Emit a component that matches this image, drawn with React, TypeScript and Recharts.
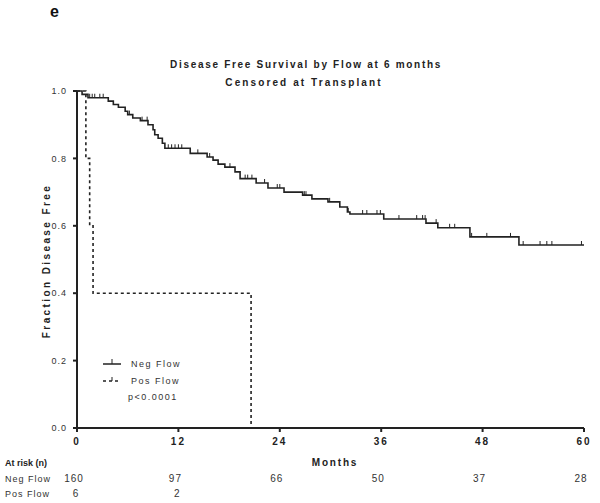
import React from 'react';
import { ComposedChart, Line, Scatter, XAxis, YAxis } from 'recharts';

// Kaplan-Meier steps
const negTimes = [0, 0.6, 1.3, 3.7, 4.3, 4.9, 5.7, 6.0, 6.6, 7.5, 8.4, 9.0, 9.2, 9.6, 10.1, 10.4, 13.4, 15.4, 16.1, 16.7, 17.5, 18.7, 19.3, 21.2, 22.6, 24.5, 26.7, 27.8, 29.7, 31.1, 32.0, 32.3, 36.3, 41.3, 42.7, 46.5, 52.3, 60];
const negSurv = [1.0, 0.99, 0.98, 0.97, 0.96, 0.952, 0.94, 0.93, 0.92, 0.912, 0.9, 0.885, 0.87, 0.86, 0.845, 0.83, 0.815, 0.804, 0.795, 0.783, 0.774, 0.76, 0.74, 0.727, 0.712, 0.7, 0.691, 0.68, 0.671, 0.656, 0.641, 0.635, 0.62, 0.608, 0.594, 0.567, 0.543, 0.543];
const negCensored = [1.5, 1.8, 2.1, 2.7, 3.1, 6.2, 7.7, 8.3, 10.8, 11.2, 11.6, 12.0, 12.4, 14.3, 15.7, 18.1, 19.9, 20.2, 20.7, 22.2, 23.7, 24.0, 26.9, 27.1, 29.9, 32.1, 33.8, 34.3, 35.5, 35.9, 38.1, 40.2, 40.9, 41.2, 42.5, 44.1, 44.7, 46.7, 48.5, 51.3, 52.8, 54.8, 55.6, 56.2, 59.7];

const posTimes = [0, 1.05, 1.5, 1.9, 20.6];
const posSurv = [1.0, 0.8, 0.6, 0.4, 0.0];

const xTicks = [0, 12, 24, 36, 48, 60];
const yTicks = [0, 0.2, 0.4, 0.6, 0.8, 1.0];

const riskNeg = [160, 97, 66, 50, 37, 28];
const riskPos = [6, 2];

const FONT = '"Liberation Sans", Arial, sans-serif';
const INK = '#222';

const negData = negTimes.map((t, i) => ({ t, s: negSurv[i] }));
const posData = posTimes.map((t, i) => ({ t, s: posSurv[i] }));

const survAt = (t: number) => {
  let s = negSurv[0];
  negTimes.forEach((nt, i) => {
    if (nt <= t) s = negSurv[i];
  });
  return s;
};
const censorData = negCensored.map(t => ({ t, s: survAt(t) }));

const CensorMark = (props: any) => {
  const { cx, cy } = props;
  return <line x1={cx} y1={cy} x2={cx} y2={cy - 4} stroke={INK} strokeWidth={1} />;
};

// plot area: x 77..584, y 91..428
const PL = 77;
const PR = 584;
const xPos = (t: number) => PL + (t / 60) * (PR - PL);

const App: React.FC = () => {
  return (
    <div style={{ position: 'absolute', left: 0, top: 0, width: 600, height: 503, background: '#fff', fontFamily: FONT }}>
      <ComposedChart
        width={600}
        height={503}
        margin={{ top: 91, right: 16, bottom: 55, left: 37 }}
      >
        <XAxis
          type="number"
          dataKey="t"
          domain={[0, 60]}
          ticks={xTicks}
          allowDataOverflow
          height={20}
          stroke={INK}
          strokeWidth={2}
          tickSize={4}
          tickMargin={6}
          tick={{ fill: INK, fontSize: 10, fontWeight: 'bold', fontFamily: FONT, letterSpacing: 2 }}
        />
        <YAxis
          type="number"
          dataKey="s"
          domain={[0, 1]}
          ticks={yTicks}
          width={40}
          stroke={INK}
          strokeWidth={2}
          tickSize={4}
          tickMargin={6}
          tickFormatter={(v: number) => v.toFixed(1)}
          tick={{ fill: '#333', fontSize: 9, fontFamily: FONT, letterSpacing: 1 }}
        />
        <Line
          data={negData}
          dataKey="s"
          type="stepAfter"
          stroke={INK}
          strokeWidth={1.6}
          dot={false}
          isAnimationActive={false}
        />
        <Line
          data={posData}
          dataKey="s"
          type="stepAfter"
          stroke={INK}
          strokeWidth={1.6}
          strokeDasharray="3 3"
          dot={false}
          isAnimationActive={false}
        />
        <Scatter data={censorData} dataKey="s" shape={CensorMark} isAnimationActive={false} />
      </ComposedChart>

      <svg
        width={600}
        height={503}
        style={{ position: 'absolute', left: 0, top: 0, pointerEvents: 'none', fontFamily: FONT }}
      >
        <text x={50} y={17} fontSize={16} fontWeight="bold" fill="#111">e</text>

        <text x={306} y={68} textAnchor="middle" fontSize={10} fontWeight="bold" fill={INK} style={{ letterSpacing: 1.7 }}>
          Disease Free Survival by Flow at 6 months
        </text>
        <text x={304} y={86} textAnchor="middle" fontSize={10} fontWeight="bold" fill={INK} style={{ letterSpacing: 2.1 }}>
          Censored at Transplant
        </text>

        <text
          x={0}
          y={0}
          transform="translate(50 261) rotate(-90)"
          textAnchor="middle"
          fontSize={10}
          fontWeight="bold"
          fill={INK}
          style={{ letterSpacing: 2.4 }}
        >
          Fraction Disease Free
        </text>

        {/* legend */}
        <line x1={103} y1={364} x2={121} y2={364} stroke={INK} strokeWidth={1.5} />
        <line x1={112} y1={364} x2={112} y2={359} stroke={INK} strokeWidth={1} />
        <text x={131} y={367} fontSize={9} fill="#333" style={{ letterSpacing: 1.5 }}>Neg Flow</text>
        <line x1={103} y1={381} x2={121} y2={381} stroke={INK} strokeWidth={1.5} strokeDasharray="3 3" />
        <line x1={112} y1={381} x2={112} y2={377} stroke={INK} strokeWidth={1} />
        <text x={131} y={384} fontSize={9} fill="#333" style={{ letterSpacing: 1.5 }}>Pos Flow</text>
        <text x={128} y={400} fontSize={9} fill="#333" style={{ letterSpacing: 1.5 }}>p&lt;0.0001</text>

        <text x={335} y={466} textAnchor="middle" fontSize={10} fontWeight="bold" fill={INK} style={{ letterSpacing: 1.8 }}>
          Months
        </text>

        {/* at risk table */}
        <text x={5} y={466} fontSize={9} fontWeight="bold" fill={INK}>At risk (n)</text>
        <text x={5} y={482} fontSize={9} fill="#333" style={{ letterSpacing: 1 }}>Neg Flow</text>
        <text x={5} y={497} fontSize={9} fill="#333" style={{ letterSpacing: 1 }}>Pos Flow</text>
        {riskNeg.map((n, i) => (
          <text key={`n${i}`} x={xPos(xTicks[i]) - 3} y={482} textAnchor="middle" fontSize={10} fill="#333" style={{ letterSpacing: 1 }}>
            {n}
          </text>
        ))}
        {riskPos.map((n, i) => (
          <text key={`p${i}`} x={xPos(xTicks[i]) - 1} y={497} textAnchor="middle" fontSize={10} fill="#333" style={{ letterSpacing: 1 }}>
            {n}
          </text>
        ))}
      </svg>
    </div>
  );
};

export default App;
